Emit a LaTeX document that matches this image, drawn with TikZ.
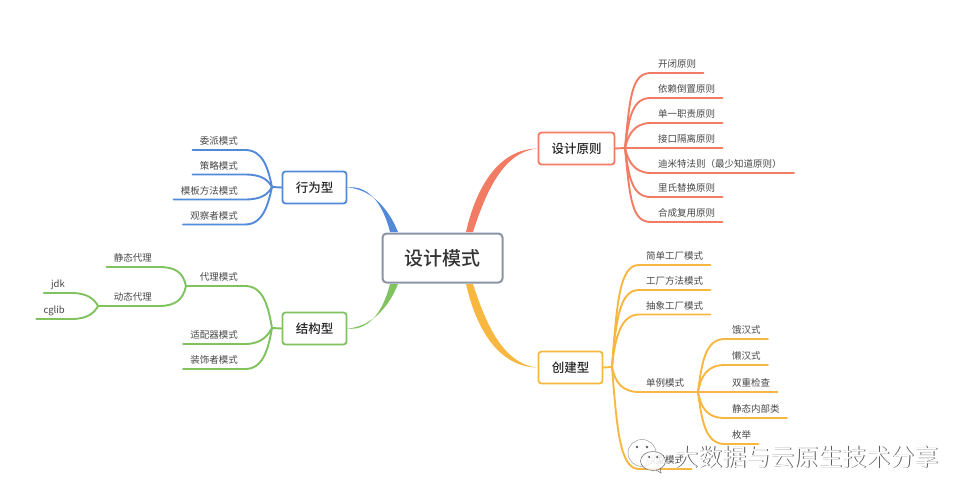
\documentclass[tikz,border=0pt]{standalone}
\usepackage{fontspec}
\setmainfont{Noto Sans CJK SC}
\newfontfamily\medfont{Noto Sans CJK SC Medium}
\usetikzlibrary{calc}

\definecolor{redline}{HTML}{F27B63}
\definecolor{yellowline}{HTML}{F7B740}
\definecolor{blueline}{HTML}{5289D9}
\definecolor{greenline}{HTML}{7FC25E}
\definecolor{rootline}{HTML}{8A94A6}

\tikzset{
 branch/.style={line width=1.9pt,line cap=round},
 leaf/.style={font=\fontsize{9.5}{11}\selectfont,text=black!72,inner xsep=7pt,inner ysep=3pt,text height=9pt,text depth=2pt},
 topic/.style={draw,line width=1.8pt,rounded corners=3pt,fill=white,text=black!85,font=\fontsize{12.5}{14}\selectfont\medfont,minimum height=32pt},
 wmark/.style={font=\fontsize{24}{26}\selectfont}
}

\begin{document}
\begin{tikzpicture}[x=1pt,y=-1pt]
\useasboundingbox (0,0) rectangle (969,500);

\node[draw=rootline,line width=2pt,rounded corners=4pt,fill=white,text=black!80,minimum width=120pt,minimum height=49pt,font=\fontsize{19}{21}\selectfont\medfont] (root) at (442.5,258) {设计模式};
\node[topic,draw=redline,minimum width=76pt] (design) at (576.5,148.5) {设计原则};
\node[topic,draw=yellowline,minimum width=64pt] (create) at (570.5,367.5) {创建型};
\node[topic,draw=blueline,minimum width=64pt] (behave) at (314.5,187.5) {行为型};
\node[topic,draw=greenline,minimum width=64pt] (struct) at (314.5,328.5) {结构型};

% main branches
\fill[redline] (466,232) .. controls (476,188) and (498,149) .. (design.west) .. controls (503,152) and (486,192) .. (473,232) -- cycle;
\fill[yellowline] (466,284) .. controls (476,328) and (498,367) .. (create.west) .. controls (503,364) and (486,324) .. (473,284) -- cycle;
\fill[blueline] (398,232) .. controls (388,207) and (370,189) .. (behave.east) .. controls (366,185) and (382,200) .. (390,232) -- cycle;
\fill[greenline] (398,284) .. controls (388,309) and (370,327) .. (struct.east) .. controls (366,331) and (382,316) .. (390,284) -- cycle;

% design principles
\coordinate (hubD) at (625,148);
\node[leaf,anchor=south west] (d1) at (651,73) {开闭原则};
\node[leaf,anchor=south west] (d2) at (651,98) {依赖倒置原则};
\node[leaf,anchor=south west] (d3) at (651,123) {单一职责原则};
\node[leaf,anchor=south west] (d4) at (651,148) {接口隔离原则};
\node[leaf,anchor=south west] (d5) at (651,173) {迪米特法则（最少知道原则）\hspace*{5pt}};
\node[leaf,anchor=south west] (d6) at (651,197) {里氏替换原则};
\node[leaf,anchor=south west] (d7) at (651,222) {合成复用原则};
\begin{scope}[branch,draw=redline]
\draw (design.east) -- (hubD);
\draw (hubD) .. controls (630,95) and (632,73) .. (d1.south west) -- (d1.south east);
\draw (hubD) .. controls (629,115) and (633,98) .. (d2.south west) -- (d2.south east);
\draw (hubD) .. controls (628,135) and (634,123) .. (d3.south west) -- (d3.south east);
\draw (hubD) -- (d4.south west) -- (d4.south east);
\draw (hubD) .. controls (628,161) and (634,173) .. (d5.south west) -- (d5.south east);
\draw (hubD) .. controls (629,180) and (633,197) .. (d6.south west) -- (d6.south east);
\draw (hubD) .. controls (630,200) and (632,222) .. (d7.south west) -- (d7.south east);
\end{scope}

% creational
\coordinate (hubC) at (612,367);
\coordinate (hubS) at (698,392);
\node[leaf,anchor=south west] (c1) at (639,265) {简单工厂模式};
\node[leaf,anchor=south west] (c2) at (639,290) {工厂方法模式};
\node[leaf,anchor=south west] (c3) at (639,314.5) {抽象工厂模式};
\node[leaf,anchor=south west] (c4) at (639,392) {单例模式};
\node[leaf,anchor=south west] (c5) at (639,469) {原型模式};
\node[leaf,anchor=south west] (s1) at (725,339) {饿汉式};
\node[leaf,anchor=south west] (s2) at (725,365) {懒汉式};
\node[leaf,anchor=south west] (s3) at (725,392) {双重检查};
\node[leaf,anchor=south west] (s4) at (725,418) {静态内部类};
\node[leaf,anchor=south west] (s5) at (725,444) {枚举};
\begin{scope}[branch,draw=yellowline]
\draw (create.east) -- (hubC);
\draw (hubC) .. controls (617,300) and (620,265) .. (c1.south west) -- (c1.south east);
\draw (hubC) .. controls (616,315) and (621,290) .. (c2.south west) -- (c2.south east);
\draw (hubC) .. controls (615,335) and (622,314.5) .. (c3.south west) -- (c3.south east);
\draw (hubC) .. controls (615,382) and (622,392) .. (c4.south west) -- (hubS);
\draw (hubC) .. controls (617,430) and (620,469) .. (c5.south west) -- (c5.south east);
\draw (hubS) .. controls (702,360) and (706,339) .. (s1.south west) -- (s1.south east);
\draw (hubS) .. controls (701,376) and (707,365) .. (s2.south west) -- (s2.south east);
\draw (hubS) -- (s3.south west) -- (s3.south east);
\draw (hubS) .. controls (701,408) and (707,418) .. (s4.south west) -- (s4.south east);
\draw (hubS) .. controls (702,423) and (706,444) .. (s5.south west) -- (s5.south east);
\end{scope}

% behavioural
\coordinate (hubB) at (272,187);
\node[leaf,anchor=south east] (b1) at (245,150) {委派模式};
\node[leaf,anchor=south east] (b2) at (245,174.5) {策略模式};
\node[leaf,anchor=south east] (b3) at (245,199.5) {模板方法模式};
\node[leaf,anchor=south east] (b4) at (245,224.5) {观察者模式};
\begin{scope}[branch,draw=blueline]
\draw (behave.west) -- (hubB);
\draw (hubB) .. controls (268,168) and (263,150) .. (b1.south east) -- (b1.south west);
\draw (hubB) .. controls (268,180) and (262,174.5) .. (b2.south east) -- (b2.south west);
\draw (hubB) .. controls (268,194) and (262,199.5) .. (b3.south east) -- (b3.south west);
\draw (hubB) .. controls (268,205) and (263,224.5) .. (b4.south east) -- (b4.south west);
\end{scope}

% structural
\coordinate (hubT) at (272,328);
\coordinate (hubP) at (186,286);
\coordinate (hubY) at (98,306);
\node[leaf,anchor=south east] (t1) at (245,286) {代理模式};
\node[leaf,anchor=south east] (t2) at (245,344) {适配器模式};
\node[leaf,anchor=south east] (t3) at (245,369) {装饰者模式};
\node[leaf,anchor=south east] (p1) at (159,267) {静态代理};
\node[leaf,anchor=south east] (p2) at (159,306) {动态代理};
\node[leaf,anchor=south east] (y1) at (72,293) {jdk};
\node[leaf,anchor=south east] (y2) at (72,319) {cglib};
\begin{scope}[branch,draw=greenline]
\draw (struct.west) -- (hubT);
\draw (hubT) .. controls (268,305) and (263,286) .. (t1.south east) -- (hubP);
\draw (hubT) .. controls (268,335) and (262,344) .. (t2.south east) -- (t2.south west);
\draw (hubT) .. controls (268,350) and (263,369) .. (t3.south east) -- (t3.south west);
\draw (hubP) .. controls (183,272) and (175,267) .. (p1.south east) -- (p1.south west);
\draw (hubP) .. controls (183,300) and (175,306) .. (p2.south east) -- (hubY);
\draw (hubY) .. controls (95,300) and (88,293) .. (y1.south east) -- (y1.south west);
\draw (hubY) .. controls (95,312) and (88,319) .. (y2.south east) -- (y2.south west);
\end{scope}

% watermark
\draw[black!45,line width=.4pt,fill=white,fill opacity=.6] (642,453) ellipse [x radius=14,y radius=13.5];
\draw[black!70,line width=.5pt] (637,447) circle[radius=1] (647,447) circle[radius=1];
\draw[black!60,line width=.5pt,fill=white,fill opacity=.8] (653,461) ellipse [x radius=12.5,y radius=9.5];
\draw[black!60,line width=.5pt] (656,470) -- (661,473) -- (660,468);
\fill[black!75] (649,457) circle[radius=1] (657,457) circle[radius=1];
\node[wmark,text=black!65] (markb) at (807,457.6) {大数据与云原生技术分享};
\node[wmark,text=white] (mark) at (806.4,457) {大数据与云原生技术分享};
\end{tikzpicture}
\end{document}
